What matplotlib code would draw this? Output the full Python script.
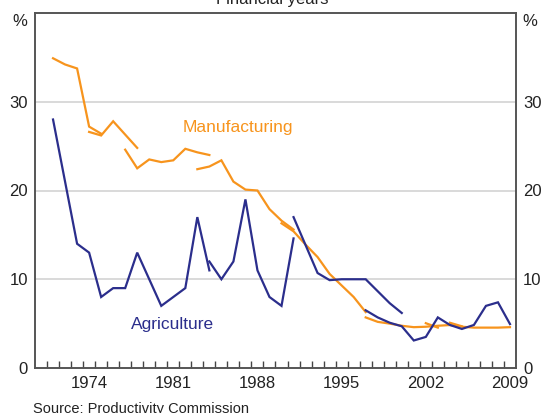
import matplotlib
matplotlib.use("Agg")
import matplotlib.pyplot as plt
import numpy as np

plt.rcParams['font.family'] = ['Liberation Sans', 'DejaVu Sans']

BLUE = '#2b2e8c'
ORANGE = '#f7941d'

# Agriculture, spliced series (year, %)
agri_years_1 = [1971, 1973, 1974, 1975, 1976, 1977, 1978, 1980, 1982, 1983, 1984]
agri_vals_1 = [28.0, 14.0, 13.0, 8.0, 9.0, 9.0, 13.0, 7.0, 9.0, 17.0, 11.0]
agri_years_2 = [1984, 1985, 1986, 1987, 1988, 1989, 1990, 1991]
agri_vals_2 = [12.0, 10.0, 12.0, 19.0, 11.0, 8.0, 7.0, 14.6]
agri_years_3 = [1991, 1993, 1994, 1995, 1996, 1997, 1999, 2000]
agri_vals_3 = [17.0, 10.7, 9.9, 10.0, 10.0, 10.0, 7.3, 6.2]
agri_years_4 = [1997, 1998, 1999, 2000, 2001, 2002, 2003, 2004, 2005, 2006, 2007, 2008, 2009]
agri_vals_4 = [6.5, 5.7, 5.1, 4.7, 3.1, 3.5, 5.7, 4.85, 4.4, 4.85, 7.0, 7.4, 4.95]

# Manufacturing, spliced series (year, %)
manu_years_1 = [1971, 1972, 1973, 1974, 1975]
manu_vals_1 = [34.9, 34.2, 33.75, 27.2, 26.4]
manu_years_2 = [1974, 1975, 1976, 1978]
manu_vals_2 = [26.6, 26.2, 27.8, 24.8]
manu_years_3 = [1977, 1978, 1979, 1980, 1981, 1982, 1983, 1984]
manu_vals_3 = [24.6, 22.5, 23.5, 23.2, 23.4, 24.7, 24.3, 24.0]
manu_years_4 = [1983, 1984, 1985, 1986, 1987, 1988, 1989, 1990, 1991]
manu_vals_4 = [22.4, 22.7, 23.4, 21.0, 20.1, 20.0, 17.9, 16.6, 15.6]
manu_years_5 = [1990, 1991, 1992, 1993, 1994, 1995, 1996, 1997]
manu_vals_5 = [16.3, 15.4, 13.9, 12.5, 10.6, 9.3, 8.0, 6.3]
manu_years_6 = [1997, 1998, 1999, 2000, 2001, 2002, 2003, 2004, 2005, 2006, 2007, 2008, 2009]
manu_vals_6 = [5.7, 5.2, 5.0, 4.76, 4.6, 4.65, 4.76, 4.84, 4.65, 4.55, 4.55, 4.55, 4.6]
manu_years_7 = [2002, 2003]
manu_vals_7 = [5.05, 4.55]
manu_years_8 = [2004, 2005]
manu_vals_8 = [5.1, 4.7]

year_labels = [1974, 1981, 1988, 1995, 2002, 2009]
y_ticks = [0, 10, 20, 30]

W, H = 544, 413
fig = plt.figure(figsize=(W / 100, H / 100), dpi=100)
ax = fig.add_axes([35 / W, (H - 368) / H, (516 - 35) / W, (368 - 13) / H])

for yv in y_ticks[1:]:
    ax.axhline(yv, color='#d3d3d3', lw=1.2, zorder=1)

agri = [(agri_years_1, agri_vals_1), (agri_years_2, agri_vals_2),
        (agri_years_3, agri_vals_3), (agri_years_4, agri_vals_4)]
manu = [(manu_years_1, manu_vals_1), (manu_years_2, manu_vals_2),
        (manu_years_3, manu_vals_3), (manu_years_4, manu_vals_4),
        (manu_years_5, manu_vals_5), (manu_years_6, manu_vals_6),
        (manu_years_7, manu_vals_7), (manu_years_8, manu_vals_8)]
for xs, ys in manu:
    ax.plot(xs, ys, color=ORANGE, lw=1.6, zorder=3, solid_joinstyle='miter')
for xs, ys in agri:
    ax.plot(xs, ys, color=BLUE, lw=1.6, zorder=4, solid_joinstyle='miter')

ax.set_xlim(1969.5, 2009.5)
ax.set_ylim(0, 40)

ax.set_xticks(year_labels)
ax.set_xticklabels([str(y) for y in year_labels])
ax.tick_params(axis='x', which='major', length=0, labelsize=12, pad=6, colors='#222222')
ax.set_xticks(np.arange(1970.5, 2009, 1.0), minor=True)
ax.tick_params(axis='x', which='minor', direction='in', length=5, width=1, color='#444444')

ax.set_yticks(y_ticks)
ax.tick_params(axis='y', which='both', length=0, labelsize=12, pad=5, colors='#222222',
               labelleft=True, labelright=True)

for s in ax.spines.values():
    s.set_color('#555555')
    s.set_linewidth(1.4)

ax.text(1972.1, 27.3, '', color=ORANGE)
ax.text(183 / W, (H - 132) / H, 'Manufacturing', transform=fig.transFigure,
        color=ORANGE, fontsize=12.5, va='baseline', ha='left')
ax.text(131 / W, (H - 329) / H, 'Agriculture', transform=fig.transFigure,
        color=BLUE, fontsize=12.5, va='baseline', ha='left')

fig.text(20 / W, (H - 21) / H, '%', fontsize=12, ha='center', va='center', color='#222222')
fig.text(530 / W, (H - 21) / H, '%', fontsize=12, ha='center', va='center', color='#222222')
fig.text(272 / W, (H - 4) / H, 'Financial years', fontsize=12, ha='center', va='baseline',
         color='#222222')
fig.text(33 / W, (H - 402) / H, 'Source: Productivity Commission', fontsize=10.5,
         ha='left', va='top', color='#222222')

fig.savefig('out.png', dpi=100)
